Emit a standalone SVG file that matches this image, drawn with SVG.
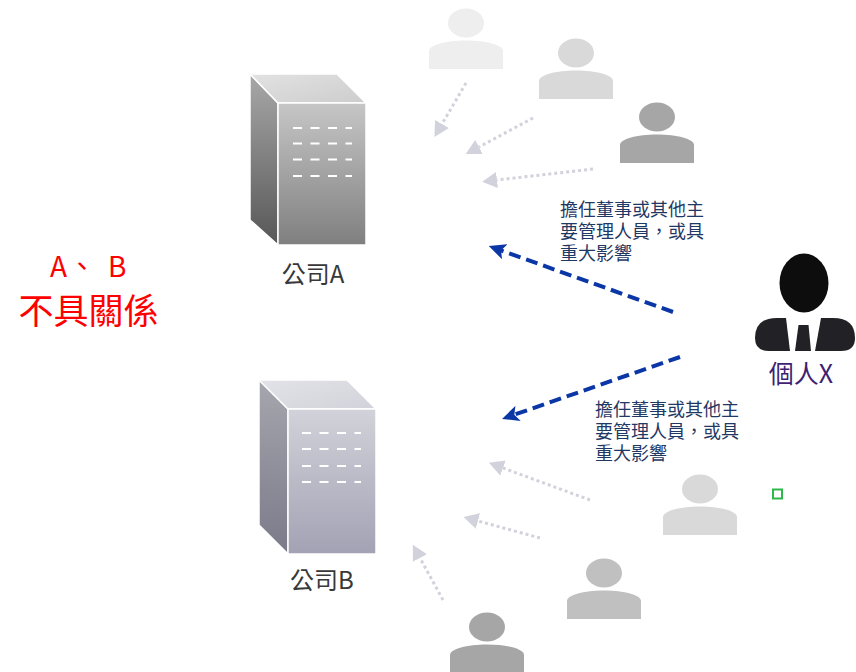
<svg xmlns="http://www.w3.org/2000/svg" xmlns:xlink="http://www.w3.org/1999/xlink" width="856" height="672" viewBox="0 0 856 672">
<style>
  text { font-family: "Noto Sans CJK TC", "Noto Sans", sans-serif; }
  .co { font-size: 24px; fill: #383838; text-anchor: middle; }
  .rel { font-size: 18px; fill: #1f3864; }
  .dot { fill: none; stroke: #d2d2dc; stroke-width: 3; stroke-dasharray: 3 3; }
  .blue { fill: none; stroke: #0b36a6; stroke-width: 4; stroke-dasharray: 12 6; }
  .grid { stroke: #ffffff; stroke-width: 2; stroke-dasharray: 9 8.5; fill: none; }
  .edge { stroke: #ffffff; stroke-width: 1.5; stroke-linejoin: round; }
</style>
<defs>
  <marker id="triGray" viewBox="0 0 15 16" refX="0" refY="8" markerWidth="15" markerHeight="16" markerUnits="userSpaceOnUse" orient="auto">
    <path d="M0,0 L15,8 L0,16 Z" fill="#d2d2dc"/>
  </marker>
  <marker id="arrBlue" viewBox="0 0 17 16" refX="4" refY="8" markerWidth="17" markerHeight="16" markerUnits="userSpaceOnUse" orient="auto">
    <path d="M0,0 L17,8 L0,16 L4,8 Z" fill="#0b36a6"/>
  </marker>
  <g id="person">
    <ellipse cx="0" cy="0" rx="18" ry="14.5"/>
    <path d="M-37,46 V28 C-37,22 -20,17.5 0,17.5 C20,17.5 37,22 37,28 V46 Z"/>
  </g>
  <linearGradient id="aFront" x1="0" y1="0" x2="0" y2="1">
    <stop offset="0" stop-color="#c6c6c6"/>
    <stop offset="1" stop-color="#7f7f7f"/>
  </linearGradient>
  <linearGradient id="aSide" x1="0" y1="0" x2="0" y2="1">
    <stop offset="0" stop-color="#a8a8a8"/>
    <stop offset="1" stop-color="#575757"/>
  </linearGradient>
  <linearGradient id="aTop" x1="0" y1="0" x2="1" y2="1">
    <stop offset="0" stop-color="#e2e2e2"/>
    <stop offset="1" stop-color="#cdcdcd"/>
  </linearGradient>
  <linearGradient id="bFront" x1="0" y1="0" x2="0" y2="1">
    <stop offset="0" stop-color="#d2d2da"/>
    <stop offset="1" stop-color="#a2a2b4"/>
  </linearGradient>
  <linearGradient id="bSide" x1="0" y1="0" x2="0" y2="1">
    <stop offset="0" stop-color="#a6a6ae"/>
    <stop offset="1" stop-color="#7a7a8a"/>
  </linearGradient>
  <linearGradient id="bTop" x1="0" y1="0" x2="1" y2="1">
    <stop offset="0" stop-color="#e2e2e8"/>
    <stop offset="1" stop-color="#d2d2da"/>
  </linearGradient>
</defs>
<rect width="856" height="672" fill="#ffffff"/>

<g id="connectors">
  <line class="dot" x1="466" y1="83" x2="442" y2="124" marker-end="url(#triGray)"/>
  <line class="dot" x1="533" y1="118" x2="479" y2="147" marker-end="url(#triGray)"/>
  <line class="dot" x1="593" y1="169" x2="497" y2="180" marker-end="url(#triGray)"/>
  <line class="dot" x1="590" y1="500" x2="503" y2="468" marker-end="url(#triGray)"/>
  <line class="dot" x1="540" y1="538" x2="478" y2="521" marker-end="url(#triGray)"/>
  <line class="dot" x1="443" y1="600" x2="420" y2="558" marker-end="url(#triGray)"/>
  <line class="blue" x1="673" y1="312" x2="501" y2="250.4" marker-end="url(#arrBlue)"/>
  <line class="blue" x1="680" y1="357" x2="514.3" y2="414.7" marker-end="url(#arrBlue)"/>
</g>

<g id="companyA">
  <polygon points="250,74 278,103 278,245 250,220" fill="url(#aSide)" class="edge"/>
  <polygon points="250,74 337,74 366,103 278,103" fill="url(#aTop)" class="edge"/>
  <rect x="278" y="103" width="88" height="142" fill="url(#aFront)" class="edge"/>
  <line class="grid" x1="293" y1="128" x2="352" y2="128"/>
  <line class="grid" x1="293" y1="143.5" x2="352" y2="143.5"/>
  <line class="grid" x1="293" y1="159.5" x2="352" y2="159.5"/>
  <line class="grid" x1="293" y1="176" x2="352" y2="176"/>
  <text class="co" x="313" y="283">公司A</text>
</g>

<g id="companyB">
  <polygon points="259,380 288,409 288,554 259,525" fill="url(#bSide)" class="edge"/>
  <polygon points="259,380 347,380 376,409 288,409" fill="url(#bTop)" class="edge"/>
  <rect x="288" y="409" width="88" height="145" fill="url(#bFront)" class="edge"/>
  <line class="grid" x1="302" y1="433" x2="361" y2="433"/>
  <line class="grid" x1="302" y1="449" x2="361" y2="449"/>
  <line class="grid" x1="302" y1="466" x2="361" y2="466"/>
  <line class="grid" x1="302" y1="482" x2="361" y2="482"/>
  <text class="co" x="322" y="589">公司B</text>
</g>

<g id="person1"><use xlink:href="#person" href="#person" x="466" y="23" fill="#eeeeee"/></g>
<g id="person2"><use xlink:href="#person" href="#person" x="576" y="53" fill="#d9d9d9"/></g>
<g id="person3"><use xlink:href="#person" href="#person" x="657" y="117" fill="#a6a6a6"/></g>
<g id="person4"><use xlink:href="#person" href="#person" x="700" y="489" fill="#d9d9d9"/></g>
<g id="person5"><use xlink:href="#person" href="#person" x="604" y="573" fill="#c0c0c0"/></g>
<g id="person6"><use xlink:href="#person" href="#person" x="487" y="627" fill="#a6a6a6"/></g>

<g id="personX">
  <ellipse cx="804" cy="283" rx="24.5" ry="29.5" fill="#0d0d0d"/>
  <path d="M786,318 L790,351 H769 Q755,351 755,338 Q755,318 777,318 Z" fill="#222226"/>
  <path d="M821,318 L815,351 H841 Q855,351 855,338 Q855,318 833,318 Z" fill="#222226"/>
  <path d="M798.5,325 H808.5 L811,351 H795 Z" fill="#222226"/>
  <text x="801" y="383" font-size="25" fill="#3f1f72" text-anchor="middle">個人X</text>
</g>

<g id="labelTop">
  <text class="rel" x="560" y="216">擔任董事或其他主</text>
  <text class="rel" x="560" y="238">要管理人員，或具</text>
  <text class="rel" x="560" y="260">重大影響</text>
</g>
<g id="labelBottom">
  <text class="rel" x="595" y="416">擔任董事或其他主</text>
  <text class="rel" x="595" y="438">要管理人員，或具</text>
  <text class="rel" x="595" y="460">重大影響</text>
</g>

<g id="note">
  <text font-size="28" fill="#ff0000"><tspan x="50" y="277">A</tspan><tspan x="68">、</tspan><tspan x="108">B</tspan></text>
  <text font-size="35" fill="#ff0000" x="88.5" y="324" text-anchor="middle">不具關係</text>
</g>

<rect id="marker" x="773" y="489.5" width="9" height="9" fill="#ffffff" stroke="#2db84a" stroke-width="2"/>
</svg>
